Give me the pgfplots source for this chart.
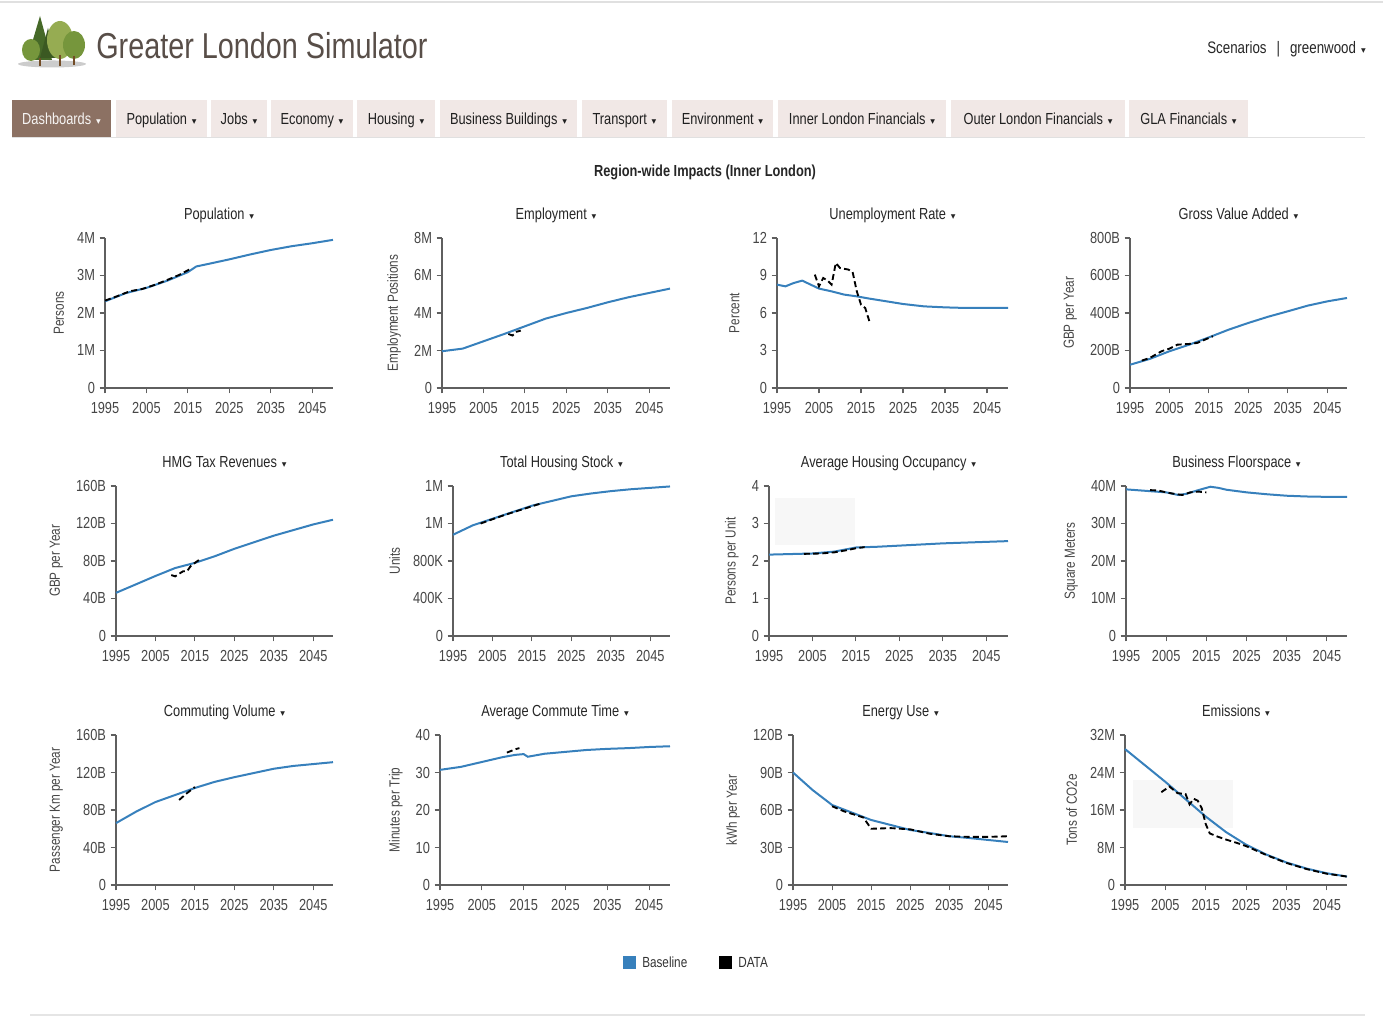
\documentclass[border=0pt]{standalone}
\usepackage{pgfplots}
\pgfplotsset{compat=1.18}
\usepackage{fontspec}
\setmainfont{Liberation Sans}[FakeStretch=0.8]
\newfontfamily\djv{DejaVu Sans}
\definecolor{base}{RGB}{55,128,188}
\definecolor{axgray}{RGB}{95,95,95}
\definecolor{tickgray}{RGB}{70,70,70}
\definecolor{tabbg}{RGB}{241,232,230}
\definecolor{tabact}{RGB}{140,113,99}
\definecolor{titlebrown}{RGB}{88,78,72}
\definecolor{treeA}{RGB}{70,105,40}
\definecolor{treeB}{RGB}{118,150,60}
\definecolor{treeC}{RGB}{150,172,82}
\newcommand\caret{\hspace{0.3em}{\djv\fontsize{7}{7}\selectfont ▾}}
\pgfplotsset{
  gl/.style={
    scale only axis, height=112.5pt, anchor=south west,
    xmin=1995, xmax=2050, ymin=0,
    xtick={1995,2005,2015,2025,2035,2045},
    xticklabels={1995,2005,2015,2025,2035,2045},
    axis x line*=bottom, axis y line*=left,
    axis line style={draw=axgray, line width=0.8pt},
    tick align=outside, major tick length=4pt,
    tick style={draw=axgray, line width=0.8pt},
    tick label style={font=\fontsize{12}{12}\selectfont, text=tickgray},
    xticklabel style={yshift=-3pt},
    ylabel style={font=\fontsize{11}{11}\selectfont, text=tickgray, xshift=0pt, yshift=3pt},
    title style={font=\fontsize{12}{12}\selectfont, text=black!85, at={(0.5,1)}, anchor=base, yshift=8pt},
    clip=false,
  },
  bl/.style={draw=base, line width=1.5pt, no markers},
  dl/.style={draw=black, line width=1.4pt, dash pattern=on 4.5pt off 2.5pt, no markers},
}
\begin{document}
\begin{tikzpicture}
\path[use as bounding box] (0,0) rectangle (1037.25pt,764.25pt);
\begin{scope}[x=0.75pt, y=-0.75pt, yshift=764.25pt]
  \draw[black!12, line width=1pt] (0,2) -- (1383,2);
  % logo
  \fill[black!20] (52,64) ellipse (34 and 3.5);
  \fill[treeA] (40,16) -- (27,60) -- (52,60) -- cycle;
  \fill[treeA!85!black] (48,28) -- (40,58) -- (56,58) -- cycle;
  \fill[treeB] (31,50) ellipse (9 and 11);
  \fill[treeC] (60,40) ellipse (13 and 19);
  \fill[treeB] (74,45) ellipse (11 and 14);
  \draw[brown!60!black, line width=1pt] (40,58) -- (40,66) (60,55) -- (60,66) (74,56) -- (74,65);
  \node[anchor=west, inner sep=0pt, text=titlebrown, font=\fontsize{27}{27}\selectfont] at (96,46) {Greater London Simulator};
  \node[anchor=base east, inner sep=0pt, text=black!85, font=\fontsize{12.5}{12.5}\selectfont] at (1366,54) {Scenarios\hspace{0.6em}|\hspace{0.6em}greenwood\caret};
  % nav
  \newcommand\tab[3]{\fill[tabbg] (#1,100) rectangle (#2,137); \node[anchor=base, text=black!88, inner sep=0pt, font=\fontsize{12}{12}\selectfont] at ({(#1+#2)/2},124.5) {#3\caret};}
  \fill[tabact] (12,100) rectangle (111,137);
  \node[anchor=base, text=white!92!tabact, inner sep=0pt, font=\fontsize{12}{12}\selectfont] at (61.5,124.5) {Dashboards\caret};
  \tab{116}{207}{Population}
  \tab{211}{267}{Jobs}
  \tab{271}{353}{Economy}
  \tab{357}{435}{Housing}
  \tab{440}{577}{Business Buildings}
  \tab{582}{667}{Transport}
  \tab{672}{773}{Environment}
  \tab{778}{946}{Inner London Financials}
  \tab{951}{1125}{Outer London Financials}
  \tab{1129}{1248}{GLA Financials}
  \draw[black!12, line width=0.8pt] (12,137.5) -- (1365,137.5);
  \node[anchor=base, text=black!85, inner sep=0pt, font=\bfseries\fontsize{12}{12}\selectfont] at (705,177) {Region-wide Impacts (Inner London)};
  % faint tooltip remnants
  \fill[black!3] (775,498) rectangle (855,545);
  \fill[black!3] (1133,780) rectangle (1233,828);
  % legend
  \fill[base] (623,956) rectangle (636,969);
  \node[anchor=west, inner sep=0pt, text=black!80, font=\fontsize{11}{11}\selectfont] at (642,962.5) {Baseline};
  \fill[black] (719,956) rectangle (732,969);
  \node[anchor=west, inner sep=0pt, text=black!80, font=\fontsize{11}{11}\selectfont] at (738,962.5) {DATA};
  \draw[black!10, line width=1pt] (30,1015) -- (1365,1015);
\end{scope}

% ===== Row 1 =====
\begin{axis}[gl, at={(78.75pt,473.25pt)}, width=171pt, ymax=4, ytick={0,1,2,3,4}, yticklabels={0,1M,2M,3M,4M}, ylabel={Persons}, title={Population\caret}]
\addplot[bl] coordinates {(1995,2.31) (2000,2.53) (2005,2.67) (2010,2.86) (2015,3.09) (2017,3.24) (2020,3.31) (2025,3.43) (2030,3.56) (2035,3.68) (2040,3.78) (2045,3.86) (2050,3.95)};
\addplot[dl] coordinates {(1995,2.33) (1998,2.45) (2001,2.58) (2004,2.64) (2007,2.75) (2010,2.88) (2013,3.02) (2016,3.2)};
\end{axis}

\begin{axis}[gl, at={(331.5pt,473.25pt)}, width=171pt, ymax=8, ytick={0,2,4,6,8}, yticklabels={0,2M,4M,6M,8M}, ylabel={Employment Positions}, title={Employment\caret}]
\addplot[bl] coordinates {(1995,1.96) (2000,2.1) (2005,2.49) (2010,2.88) (2015,3.29) (2020,3.7) (2025,4.0) (2030,4.27) (2035,4.57) (2040,4.84) (2045,5.07) (2050,5.3)};
\addplot[dl] coordinates {(2011,2.88) (2012,2.8) (2013,3.0) (2014,3.06)};
\end{axis}

\begin{axis}[gl, at={(582.75pt,473.25pt)}, width=173.25pt, ymax=12, ytick={0,3,6,9,12}, yticklabels={0,3,6,9,12}, ylabel={Percent}, title={Unemployment Rate\caret}]
\addplot[bl] coordinates {(1995,8.27) (1997,8.13) (1999,8.4) (2001,8.59) (2003,8.27) (2005,7.95) (2008,7.73) (2011,7.47) (2014,7.33) (2017,7.15) (2020,6.99) (2025,6.72) (2030,6.53) (2035,6.45) (2040,6.4) (2045,6.4) (2050,6.4)};
\addplot[dl] coordinates {(2004,9.07) (2005,8.13) (2006,8.8) (2007,8.6) (2008,8.27) (2009,10.0) (2010,9.6) (2012,9.47) (2013,9.28) (2014,7.73) (2015,6.67) (2016,6.4) (2017,5.33)};
\end{axis}

\begin{axis}[gl, at={(847.5pt,473.25pt)}, width=162.75pt, ymax=800, ytick={0,200,400,600,800}, yticklabels={0,200B,400B,600B,800B}, ylabel={GBP per Year}, title={Gross Value Added\caret}]
\addplot[bl] coordinates {(1995,124) (2000,155) (2005,196) (2010,231) (2015,270) (2020,311) (2025,347) (2030,380) (2035,409) (2040,439) (2045,462) (2050,480)};
\addplot[dl] coordinates {(1998,146) (2000,160) (2003,196) (2005,210) (2007,231) (2010,235) (2012,240) (2014,258) (2016,276)};
\end{axis}

% ===== Row 2 =====
\begin{axis}[gl, at={(87pt,287.25pt)}, width=162.75pt, ymax=160, ytick={0,40,80,120,160}, yticklabels={0,40B,80B,120B,160B}, ylabel={GBP per Year}, title={HMG Tax Revenues\caret}]
\addplot[bl] coordinates {(1995,46) (2000,55) (2005,64) (2010,72.5) (2015,78) (2020,85) (2025,93) (2030,100) (2035,107) (2040,113) (2045,119) (2050,124)};
\addplot[dl] coordinates {(2009,65) (2010,63.6) (2011,66.4) (2012,69) (2013,69) (2014,75) (2015,78) (2016,81)};
\end{axis}

\begin{axis}[gl, at={(339.75pt,287.25pt)}, width=162.75pt, ymax=1.6, ytick={0,0.4,0.8,1.2,1.6}, yticklabels={0,400K,800K,1M,1M}, ylabel={Units}, title={Total Housing Stock\caret}]
\addplot[bl] coordinates {(1995,1.08) (2000,1.18) (2005,1.25) (2010,1.32) (2015,1.39) (2020,1.44) (2025,1.49) (2030,1.52) (2035,1.545) (2040,1.565) (2045,1.58) (2050,1.595)};
\addplot[dl] coordinates {(2002,1.2) (2005,1.245) (2008,1.29) (2011,1.33) (2014,1.37) (2017,1.41)};
\end{axis}

\begin{axis}[gl, at={(576.75pt,287.25pt)}, width=179.25pt, ymax=4, ytick={0,1,2,3,4}, yticklabels={0,1,2,3,4}, ylabel={Persons per Unit}, title={Average Housing Occupancy\caret}]
\addplot[bl] coordinates {(1995,2.17) (2005,2.2) (2010,2.25) (2015,2.36) (2020,2.38) (2025,2.41) (2030,2.44) (2035,2.47) (2040,2.49) (2045,2.51) (2050,2.53)};
\addplot[dl] coordinates {(2003,2.19) (2007,2.2) (2010,2.23) (2013,2.29) (2015,2.34) (2017,2.37)};
\end{axis}

\begin{axis}[gl, at={(844.5pt,287.25pt)}, width=165.75pt, ymax=40, ytick={0,10,20,30,40}, yticklabels={0,10M,20M,30M,40M}, ylabel={Square Meters}, title={Business Floorspace\caret}]
\addplot[bl] coordinates {(1995,39.1) (2000,38.7) (2005,38.3) (2008,37.6) (2010,37.9) (2013,38.9) (2016,39.8) (2018,39.5) (2020,39.0) (2025,38.3) (2030,37.8) (2035,37.4) (2040,37.2) (2045,37.1) (2050,37.1)};
\addplot[dl] coordinates {(2001,38.9) (2003,38.8) (2005,38.3) (2007,37.9) (2009,37.6) (2011,38.3) (2013,38.5) (2015,38.3)};
\end{axis}

% ===== Row 3 =====
\begin{axis}[gl, at={(87pt,100.5pt)}, width=162.75pt, ymax=160, ytick={0,40,80,120,160}, yticklabels={0,40B,80B,120B,160B}, ylabel={Passenger Km per Year}, title={Commuting Volume\caret}]
\addplot[bl] coordinates {(1995,66) (2000,78) (2005,88.5) (2010,96) (2015,103.5) (2020,110) (2025,115) (2030,119.5) (2035,124) (2040,127) (2045,129) (2050,131)};
\addplot[dl] coordinates {(2011,90.7) (2013,98) (2015,104.5)};
\end{axis}

\begin{axis}[gl, at={(330pt,100.5pt)}, width=172.5pt, ymax=40, ytick={0,10,20,30,40}, yticklabels={0,10,20,30,40}, ylabel={Minutes per Trip}, title={Average Commute Time\caret}]
\addplot[bl] coordinates {(1995,30.7) (2000,31.5) (2005,32.8) (2010,34.1) (2013,34.7) (2015,34.9) (2016,34.2) (2020,35) (2025,35.5) (2030,36) (2035,36.3) (2040,36.5) (2045,36.8) (2050,37)};
\addplot[dl] coordinates {(2011,35.3) (2013,36.2) (2014,36.5)};
\end{axis}

\begin{axis}[gl, at={(594.75pt,100.5pt)}, width=161.25pt, ymax=120, ytick={0,30,60,90,120}, yticklabels={0,30B,60B,90B,120B}, ylabel={kWh per Year}, title={Energy Use\caret}]
\addplot[bl] coordinates {(1995,90) (2000,76) (2005,64) (2010,58) (2015,52) (2020,48) (2025,44) (2030,41.6) (2035,39) (2040,37.6) (2045,36) (2050,34.4)};
\addplot[dl] coordinates {(2005,63) (2008,59) (2011,56) (2013,54) (2015,45) (2020,45.5) (2025,44.5) (2030,41) (2035,39) (2040,38.5) (2045,38.5) (2050,39)};
\end{axis}

\begin{axis}[gl, at={(843.75pt,100.5pt)}, width=166.5pt, ymax=32, ytick={0,8,16,24,32}, yticklabels={0,8M,16M,24M,32M}, ylabel={Tons of CO2e}, title={Emissions\caret}]
\addplot[bl] coordinates {(1995,29) (2000,25.5) (2005,22) (2010,18.3) (2015,14.6) (2020,11.3) (2025,8.6) (2030,6.5) (2035,4.8) (2040,3.5) (2045,2.5) (2050,1.8)};
\addplot[dl] coordinates {(2004,19.8) (2006,21.0) (2008,19.6) (2010,19.4) (2011,17.2) (2012,18.4) (2013,18.0) (2014,16.4) (2015,13.0) (2016,11.0) (2018,10.3) (2020,9.7) (2023,8.9) (2025,8.3) (2030,6.4) (2035,4.7) (2040,3.4) (2045,2.4) (2050,1.8)};
\end{axis}
\end{tikzpicture}
\end{document}
